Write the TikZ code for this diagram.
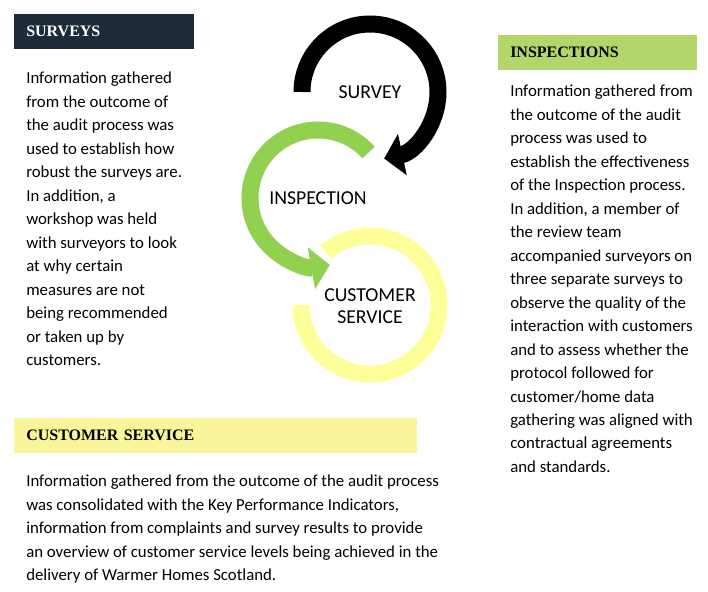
\documentclass[tikz,border=0pt]{standalone}
\usepackage{fontspec}
\setmainfont{Carlito}
\newfontfamily\headfont{Liberation Serif}
\usetikzlibrary{arrows.meta,positioning}
\definecolor{navyhead}{HTML}{1F2A38}
\definecolor{greenhead}{HTML}{B3D66A}
\definecolor{yellowhead}{HTML}{F9F59A}
\definecolor{ringgreen}{HTML}{92D050}
\definecolor{ringyellow}{HTML}{FFFF99}
\begin{document}
\begin{tikzpicture}[x=0.75pt,y=-0.75pt,
    headbox/.style={minimum height=26pt,inner xsep=9pt,inner ysep=0pt,anchor=north west,
      align=left,font=\headfont\bfseries\fontsize{12}{14}\selectfont,text depth=0pt},
    bodytext/.style={anchor=north west,inner sep=0pt,align=left,
      font=\fontsize{12.6}{17.6}\selectfont},
    ring/.style={line width=12.75pt},
    ringtip/.style={-{Triangle[width=31pt,length=14pt]}},
    ringlabel/.style={font=\fontsize{14.8}{16.5}\selectfont,align=center}]
  \useasboundingbox (0,0) rectangle (708,592);

  % headings
  \node[headbox,fill=navyhead,text=white,text width=117pt] (hsurv) at (14,14) {SURVEYS};
  \node[headbox,fill=greenhead,text width=131pt] (hinsp) at (498,35) {INSPECTIONS};
  \node[headbox,fill=yellowhead,text width=284pt] (hcust) at (14,418) {CUSTOMER SERVICE};

  % texts
  \node[bodytext] (tsurv) at (26,72) {Information gathered\\from the outcome of\\the audit process was\\used to establish how\\robust the surveys are.\\In addition, a\\workshop was held\\with surveyors to look\\at why certain\\measures are not\\being recommended\\or taken up by\\customers.};
  \node[bodytext] (tinsp) at (510,85) {Information gathered from\\the outcome of the audit\\process was used to\\establish the effectiveness\\of the Inspection process.\\In addition, a member of\\the review team\\accompanied surveyors on\\three separate surveys to\\observe the quality of the\\interaction with customers\\and to assess whether the\\protocol followed for\\customer/home data\\gathering was aligned with\\contractual agreements\\and standards.};
  \node[bodytext] (tcust) at (26,475) {Information gathered from the outcome of the audit process\\was consolidated with the Key Performance Indicators,\\information from complaints and survey results to provide\\an overview of customer service levels being achieved in the\\delivery of Warmer Homes Scotland.};

  % rings
  \coordinate (csurv) at (370,92);
  \coordinate (cinsp) at (318,198);
  \coordinate (ccust) at (370,305);
  \draw[ring,ringyellow] ([shift={(-130:69)}]ccust) arc[start angle=-130,end angle=180,radius=69];
  \draw[ring,ringgreen,ringtip] ([shift={(-42:68)}]cinsp) arc[start angle=-42,end angle=-280,radius=68];
  \draw[ring,black,ringtip] ([shift={(-180:68)}]csurv) arc[start angle=-180,end angle=78,radius=68];

  \node[ringlabel] (lsurv) at (370,92) {SURVEY};
  \node[ringlabel] (linsp) at (318,198) {INSPECTION};
  \node[ringlabel] (lcust) at (370,306) {CUSTOMER\\SERVICE};
\end{tikzpicture}
\end{document}
